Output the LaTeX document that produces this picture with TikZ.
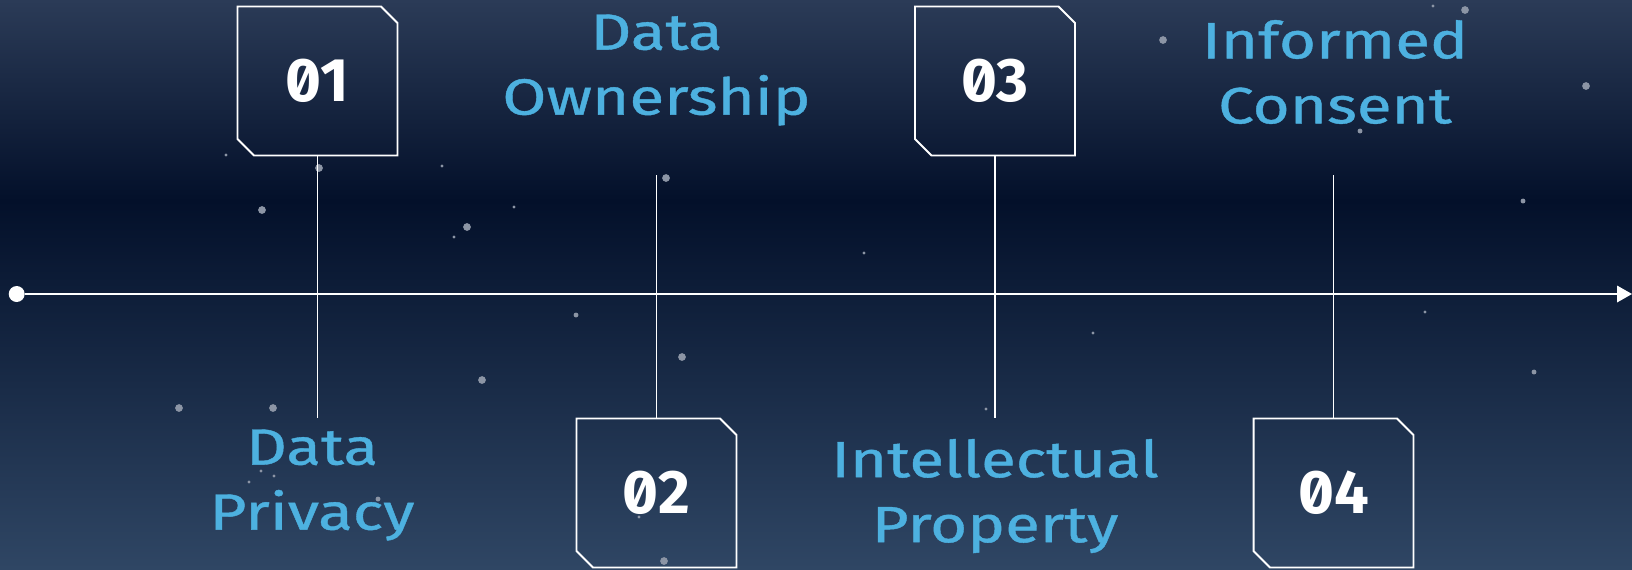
\documentclass[tikz,border=0pt]{standalone}
\usepackage{fontspec}
\usepackage{xcolor}
\usetikzlibrary{shapes.misc,arrows.meta}
\newfontfamily\labelfont[FakeStretch=1.25,FakeBold=0.8]{Fira Sans}
\newfontfamily\numfont[Numbers=SlashedZero]{Fira Sans}
\definecolor{bgtop}{HTML}{2B3B57}
\definecolor{bgmid}{HTML}{03102A}
\definecolor{bgbot}{HTML}{2F4664}
\definecolor{labelblue}{HTML}{4DB1E0}
\definecolor{stargrey}{HTML}{8C95A5}
\tikzstyle{node:card}=[chamfered rectangle,chamfered rectangle corners={north east,south west},chamfered rectangle xsep=0.165cm,chamfered rectangle ysep=0.165cm,draw=white,line width=1.1pt,minimum width=3.2cm,minimum height=2.98cm,inner sep=0pt,text=white,font=\numfont\bfseries\fontsize{35}{35}\selectfont]
\tikzstyle{node:label}=[align=center,text=labelblue,inner sep=0pt,font=\labelfont\fontsize{29}{37}\selectfont]
\tikzstyle{node:start}=[circle,fill=white,minimum size=0.32cm,inner sep=0pt]
\tikzstyle{draw:stem}=[white,line width=1pt]
\tikzstyle{draw:axis}=[white,line width=1.1pt,-{Triangle[length=0.3cm,width=0.33cm]}]

\begin{document}
\begin{tikzpicture}[x=0.02cm,y=-0.02cm]
        % Background
        \useasboundingbox (0,0) rectangle (1632,569);
        \fill[top color=bgtop,bottom color=bgmid] (0,0) rectangle (1632,201);
        \fill[top color=bgmid,bottom color=bgbot] (0,200) rectangle (1632,569);

        % Stars
        \foreach \x/\y/\r in {226/155/0.9,319/168/2.2,262/210/2.2,442/166/0.9,514/207/0.9,467/227/2.2,454/237/0.9,
                1163/40/2.2,1465/10/2.2,1433/6/0.9,1586/86/2.2,666/178/2.2,1360/131/1.4,682/357/2.2,482/380/2.2,
                179/408/2.2,273/408/2.2,576/315/1.4,1534/372/1.4,1523/201/1.4,864/253/0.9,1093/333/0.9,1425/312/0.9,
                986/409/0.9,639/517/0.9,664/561/2.2,378/499/1.4,249/482/0.9,261/471/0.9,274/476/0.9}
            \fill[stargrey] (\x,\y) circle (\r pt);

        % Timeline
        \node[node:start] (start) at (16.7,294) {};
        \coordinate (end) at (1632,294);
        \draw[draw:axis] (start) -- (end);

        % Cards
        \node[node:card] (c1) at (317.5,81) {01};
        \node[node:card] (c2) at (656.5,493) {02};
        \node[node:card] (c3) at (995,81) {03};
        \node[node:card] (c4) at (1333.5,493) {04};

        % Stem ends
        \coordinate (t1) at (317.5,418);
        \coordinate (t2) at (656.5,175);
        \coordinate (t3) at (995,418);
        \coordinate (t4) at (1333.5,175);

        % Stems
        \draw[draw:stem] (c1.south) -- (t1);
        \draw[draw:stem] (c2.north) -- (t2);
        \draw[draw:stem] (c3.south) -- (t3);
        \draw[draw:stem] (c4.north) -- (t4);

        % Labels
        \node[node:label] (l1) at (312,485) {Data\\Privacy};
        \node[node:label] (l2) at (656.5,70) {Data\\Ownership};
        \node[node:label] (l3) at (995,496) {Intellectual\\Property};
        \node[node:label] (l4) at (1335,72) {Informed\\Consent};

    \end{tikzpicture}
\end{document}
